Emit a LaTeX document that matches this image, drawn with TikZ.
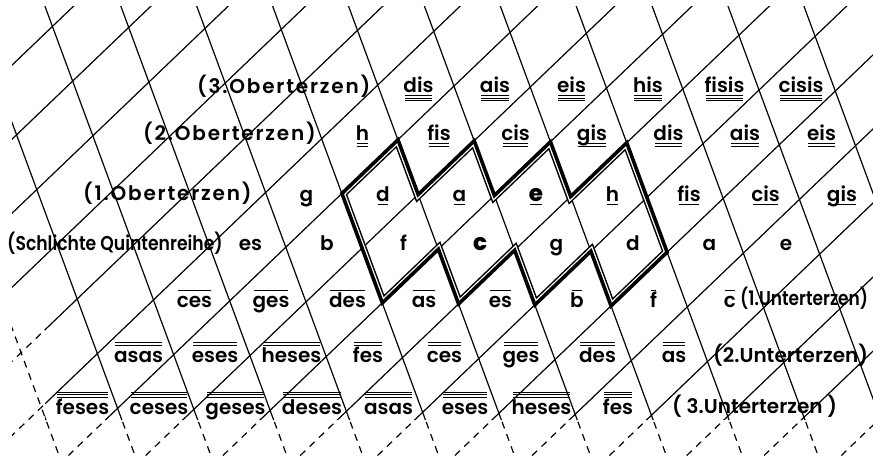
\documentclass[tikz,border=0pt]{standalone}
\usepackage{fontspec}
\setmainfont{Poppins}[UprightFont=* SemiBold, BoldFont=* ExtraBold]
\newfontfamily\condfont{Poppins}[UprightFont=* SemiBold, FakeStretch=0.86]
\newfontfamily\widefont{Poppins}[UprightFont=* SemiBold, LetterSpace=9]
\newfontfamily\narrowfont{Poppins}[UprightFont=* SemiBold, FakeStretch=0.85]
\usetikzlibrary{calc}

% the two families of lines of the net
\newcommand{\tonnetzgrid}[1]{%
  \foreach \b in {-9.5,-8.5,...,8.5}
    \draw[#1] ({494.9+77.3*\b-280.25},500.5) -- ({494.9+77.3*\b+280.25},-36.5);
  \foreach \a in {-7.5,-6.5,...,7.5}
    \draw[#1] ({469.9+75.9*\a-101},-41.5) -- ({469.9+75.9*\a+101},505.5);
}
\newcommand{\keytone}[1]{{\bfseries\fontsize{23}{23}\selectfont #1}}

\begin{document}
\begin{tikzpicture}[x=1pt, y=-1pt,
    % --- STYLES ---
    gridline/.style={line width=1.2pt},
    faint/.style={gridline, dash pattern=on 7pt off 6pt},
    note/.style={anchor=base, inner sep=0pt, font=\fontsize{20}{20}\selectfont},
    rowlabel/.style={anchor=base west, inner sep=0pt, font=\fontsize{20}{20}\selectfont},
    accent/.style={line width=0.8pt}
]
\useasboundingbox (0,0) rectangle (873,461);

% --- GRID ---
\begin{scope}
  \clip (12,6) -- (873,6) -- (873,420) -- (45,420) -- (45,330) -- (12,330) -- cycle;
  \tonnetzgrid{gridline}
\end{scope}
\begin{scope}
  \clip (12,330) -- (45,330) -- (45,420) -- (873,420) -- (873,458) -- (12,458) -- cycle;
  \tonnetzgrid{faint}
\end{scope}

% --- FRAMED CHAIN (double line) ---
\foreach \a/\b [count=\i] in {-1.5/-2.5, -0.5/-2.5, -0.5/-1.5, 0.5/-1.5, 0.5/-0.5, 1.5/-0.5,
    1.5/0.5, 2.5/0.5, 2.5/2.5, 1.5/2.5, 1.5/1.5, 0.5/1.5, 0.5/0.5, -0.5/0.5, -0.5/-0.5, -1.5/-0.5}
  \coordinate (o\i) at ({476.5+56.05*\a+20.2*\b},{249.7-53.7*\a+54.7*\b});
\def\chain{(o1) -- (o2) -- (o3) -- (o4) -- (o5) -- (o6) -- (o7) -- (o8) -- (o9) -- (o10)
  -- (o11) -- (o12) -- (o13) -- (o14) -- (o15) -- (o16) -- cycle}
\begin{scope}
  \clip \chain;
  \draw[line width=9.2pt] \chain;
  \draw[white, line width=6.2pt] \chain;
\end{scope}
\draw[line width=3.6pt] \chain;

% --- NOTES ---
\foreach \r/\y/\names in {
    3/92/{dis,ais,eis,his,fisis,cisis},
    2/140/{h,fis,cis,gis,dis,ais,eis},
    1/201/{g,d,a,\keytone{e},h,fis,cis,gis},
    0/250/{es,b,f,\keytone{c},g,d,a,e},
    -1/307/{ces,ges,des,as,es,b,f,c},
    -2/362/{asas,eses,heses,fes,ces,ges,des,as},
    -3/414/{feses,ceses,geses,deses,asas,eses,heses,fes}}
{
  \foreach \nm [count=\k from -3] in \names {
    \node[note] (n\r-\k) at ({480+76.5*\k+56*\r},\y) {\nm};
    % strokes under (Oberterzen) or over (Unterterzen)
    \ifnum\r>0
      \foreach \j in {1,...,\r}
        \draw[accent] ($(n\r-\k.base west)+(1.5,{1.5+2.3*\j})$) -- ($(n\r-\k.base east)+(-1.5,{1.5+2.3*\j})$);
    \fi
    \ifnum\r<0
      \pgfmathtruncatemacro\m{-\r}
      \foreach \j in {1,...,\m}
        \draw[accent] ($(n\r-\k.base west)+(1.5,{-14.5-2.4*\j})$) -- ($(n\r-\k.base east)+(-1.5,{-14.5-2.4*\j})$);
    \fi
  }
}

% --- ROW LABELS ---
\node[rowlabel, font=\widefont\fontsize{20}{20}\selectfont] (lab3) at (197,93) {(3.Oberterzen)};
\node[rowlabel, font=\widefont\fontsize{20}{20}\selectfont] (lab2) at (143,140) {(2.Oberterzen)};
\node[rowlabel, font=\widefont\fontsize{20}{20}\selectfont] (lab1) at (83,200) {(1.Oberterzen)};
\node[rowlabel, font=\condfont\fontsize{20}{20}\selectfont] (lab0) at (7,250) {(Schlichte Quintenreihe)};
\node[rowlabel, font=\narrowfont\fontsize{20}{20}\selectfont] (labm1) at (740,305) {(1.Unterterzen)};
\node[rowlabel] (labm2) at (713,362) {(2.Unterterzen)};
\node[rowlabel] (labm3) at (672,413) {( 3.Unterterzen )};

\end{tikzpicture}
\end{document}
